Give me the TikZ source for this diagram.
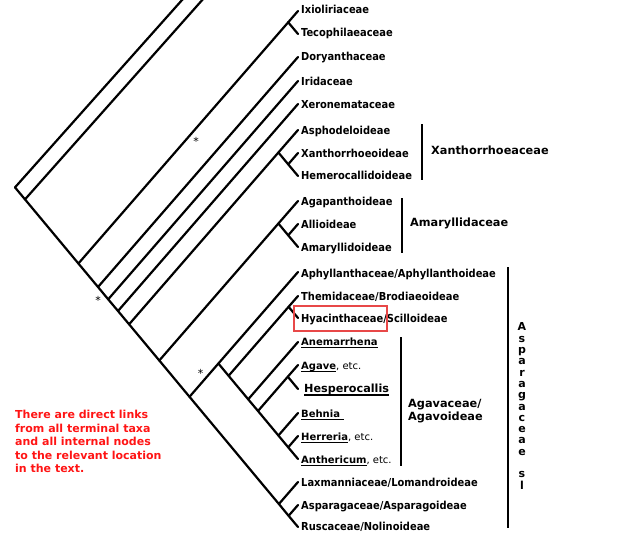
\documentclass[tikz,border=0pt]{standalone}
\usepackage{fontspec}
\setmainfont{DejaVu Sans}
\newfontfamily\condfont{DejaVu Sans Condensed}
\definecolor{boxred}{RGB}{232,72,72}
\definecolor{notered}{RGB}{255,20,20}
\newsavebox\ulbox
\newcommand\ulx[1]{\sbox\ulbox{#1}\rlap{\rule[-3pt]{\wd\ulbox}{1.4pt}}\usebox\ulbox}
\begin{document}
\begin{tikzpicture}[x=1pt,y=-1pt,
  br/.style={line width=2.2pt,line cap=round},
  leaf/.style={anchor=base west,inner sep=0pt,font=\condfont\fontsize{11}{12}\selectfont\bfseries},
  uleaf/.style={anchor=base west,inner sep=0pt,font=\fontsize{10}{12}\selectfont\bfseries},
  clade/.style={anchor=base west,inner sep=0pt,font=\fontsize{11.3}{13}\selectfont\bfseries},
  bar/.style={line width=2.4pt},
  star/.style={inner sep=0pt,font=\fontsize{11}{12}\selectfont}]
\useasboundingbox (0,0) rectangle (640,551);
% leaf tips
\foreach \n/\y in {1/11,2/34,3/57,4/81,5/104,6/130,7/153,8/176,9/201,10/224,11/247,12/272,13/296,14/318,15/342,16/365,17/389,18/413,19/436,20/459,21/482,22/505,23/527}
  \coordinate (t\n) at (298,\y);
% internal nodes
\coordinate (root) at (15,187.4);
\coordinate (R1) at (25,199.4);
\coordinate (O1) at (184,-2.2);
\coordinate (O2) at (204,-2);
\coordinate (R2) at (78.4,263.5);
\coordinate (R3) at (98,287);
\coordinate (R4) at (108.2,299.3);
\coordinate (R5) at (118,311);
\coordinate (R6) at (129.1,324.3);
\coordinate (R7) at (159.3,360.5);
\coordinate (R8) at (189.5,396.8);
\coordinate (NL) at (278.9,504);
\coordinate (NAR) at (288.6,515.8);
\coordinate (NIT) at (288.2,22.3);
\coordinate (NX) at (278.4,152.5);
\coordinate (NXH) at (288.2,164.3);
\coordinate (NA) at (278.4,223.5);
\coordinate (NAA) at (288.2,235.3);
\coordinate (As) at (218.4,363.5);
\coordinate (NT2) at (228.6,375.8);
\coordinate (NTH) at (288.6,306.8);
\coordinate (NAg) at (248.2,399.3);
\coordinate (NAg2) at (258,411);
\coordinate (NAH) at (287.8,376.7);
\coordinate (NB) at (278.4,435.5);
\coordinate (NHA) at (288.2,447.3);
% branches
\draw[br] (root) -- (R1) -- (R2) -- (R3) -- (R4) -- (R5) -- (R6) -- (R7) -- (R8) -- (NL) -- (NAR) -- (t23);
\draw[br] (root) -- (O1);
\draw[br] (R1) -- (O2);
\draw[br] (R2) -- (NIT) -- (t1);
\draw[br] (NIT) -- (t2);
\draw[br] (R3) -- (t3);
\draw[br] (R4) -- (t4);
\draw[br] (R5) -- (t5);
\draw[br] (R6) -- (NX) -- (t6);
\draw[br] (NX) -- (NXH) -- (t8);
\draw[br] (NXH) -- (t7);
\draw[br] (R7) -- (NA) -- (t9);
\draw[br] (NA) -- (NAA) -- (t11);
\draw[br] (NAA) -- (t10);
\draw[br] (R8) -- (As) -- (t12);
\draw[br] (As) -- (NT2) -- (NAg) -- (NAg2) -- (NB) -- (NHA) -- (t20);
\draw[br] (NT2) -- (NTH) -- (t13);
\draw[br] (NTH) -- (t14);
\draw[br] (NAg) -- (t15);
\draw[br] (NAg2) -- (NAH) -- (t16);
\draw[br] (NAH) -- (t17);
\draw[br] (NB) -- (t18);
\draw[br] (NHA) -- (t19);
\draw[br] (NL) -- (t21);
\draw[br] (NAR) -- (t22);
% leaf labels
\node[leaf] (L1) at (301,14) {Ixioliriaceae};
\node[leaf] (L2) at (301,37) {Tecophilaeaceae};
\node[leaf] (L3) at (301,61) {Doryanthaceae};
\node[leaf] (L4) at (301,85) {Iridaceae};
\node[leaf] (L5) at (301,108) {Xeronemataceae};
\node[leaf] (L6) at (301,134) {Asphodeloideae};
\node[leaf] (L7) at (301,157) {Xanthorrhoeoideae};
\node[leaf] (L8) at (301,179) {Hemerocallidoideae};
\node[leaf] (L9) at (301,205) {Agapanthoideae};
\node[leaf] (L10) at (301,228) {Allioideae};
\node[leaf] (L11) at (301,251) {Amaryllidoideae};
\node[leaf] (L12) at (301,277) {Aphyllanthaceae/Aphyllanthoideae};
\node[leaf] (L13) at (301,300) {Themidaceae/Brodiaeoideae};
\node[leaf] (L14) at (301,322) {Hyacinthaceae/Scilloideae};
\node[uleaf] (L15) at (301,345) {\ulx{Anemarrhena}};
\node[uleaf] (L16) at (301,369) {\ulx{Agave}\mdseries, etc.};
\node[uleaf,font=\fontsize{11.2}{13}\selectfont\bfseries] (L17) at (304,392.5) {\ulx{Hesperocallis}};
\node[uleaf] (L18) at (301,417) {\ulx{Behnia\ }};
\node[uleaf] (L19) at (301,440) {\ulx{Herreria}\mdseries, etc.};
\node[uleaf] (L20) at (301,463) {\ulx{Anthericum}\mdseries, etc.};
\node[leaf] (L21) at (301,486) {Laxmanniaceae/Lomandroideae};
\node[leaf] (L22) at (301,509) {Asparagaceae/Asparagoideae};
\node[leaf] (L23) at (301,530) {Ruscaceae/Nolinoideae};
% highlight box
\draw[boxred,line width=2pt] (294,305.7) rectangle (386.7,330.7);
% asterisks
\node[star] (s1) at (196,141.5) {*};
\node[star] (s2) at (98,300.5) {*};
\node[star] (s3) at (200.5,373.5) {*};
% clade bars and labels
\draw[bar] (422,124) -- (422,180);
\node[clade] (cX) at (431,154) {Xanthorrhoeaceae};
\draw[bar] (402,198) -- (402,253);
\node[clade] (cA) at (410,226) {Amaryllidaceae};
\draw[bar] (401,337) -- (401,466);
\node[clade] (cG1) at (408,407) {Agavaceae/};
\node[clade] (cG2) at (408,420) {Agavoideae};
\draw[bar] (508,267) -- (508,528);
\node[anchor=north,inner sep=0pt,align=center,font=\fontsize{11}{11.3}\selectfont\bfseries] (cS) at (522,322.7)
  {A\\s\\p\\a\\r\\a\\g\\a\\c\\e\\a\\e\\\mbox{}\\s\\l};
% note
\node[anchor=north west,inner sep=0pt,align=left,text=notered,font=\fontsize{11}{13.6}\selectfont\bfseries] (note) at (15,410)
  {There are direct links\\from all terminal taxa\\and all internal nodes\\to the relevant location\\in the text.};
\end{tikzpicture}
\end{document}
